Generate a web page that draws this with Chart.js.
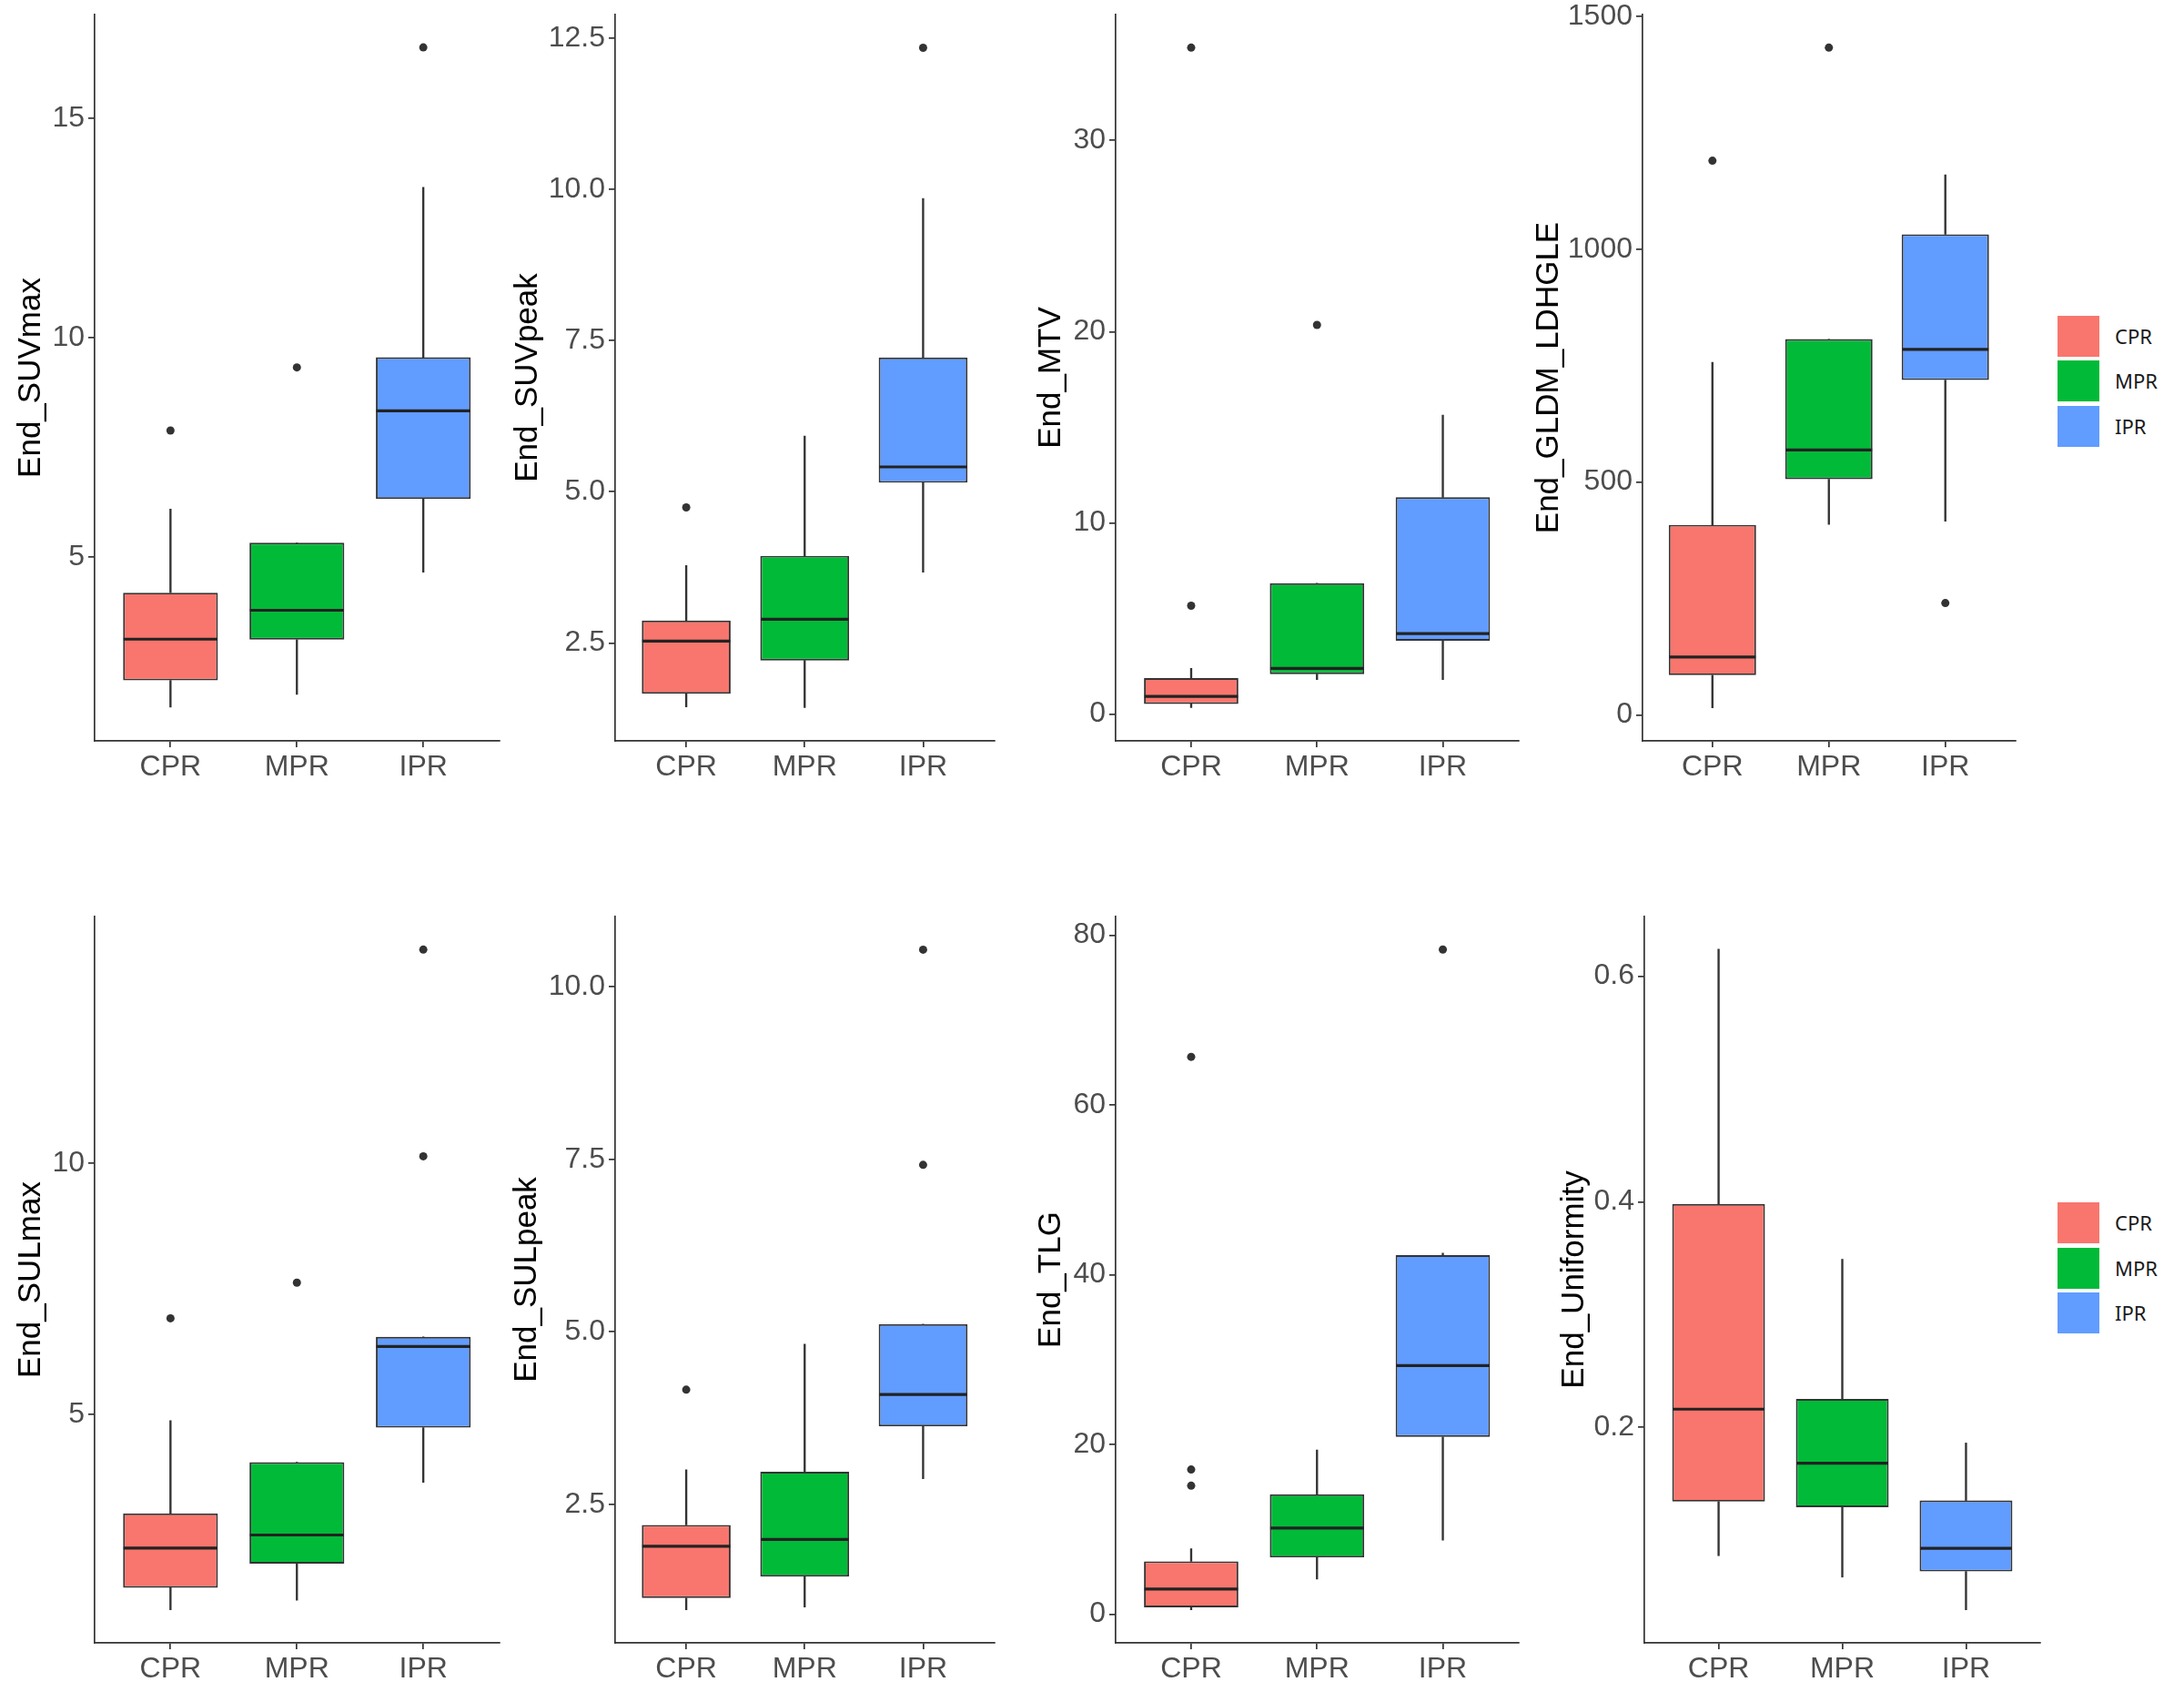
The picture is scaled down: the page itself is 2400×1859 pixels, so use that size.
<!DOCTYPE html>
<html>
<head>
<meta charset="utf-8">
<script src="https://cdn.jsdelivr.net/npm/chart.js@4.4.1/dist/chart.umd.min.js"></script>
<style>
html,body{margin:0;padding:0;background:#fff;}
body{width:2400px;height:1859px;position:relative;overflow:hidden;font-family:'Liberation Sans',Arial,sans-serif;}
canvas{position:absolute;}
.sw{position:absolute;left:2261px;width:46px;height:45px;}
.lt{position:absolute;left:2324px;height:45px;line-height:45px;font-size:22px;color:#1a1a1a;font-family:'Noto Sans','Liberation Sans',sans-serif;}
</style>
</head>
<body>
<script>
// ---------- data ----------
const groups = ['CPR', 'MPR', 'IPR'];
const groupColors = ['#F8766D', '#00BA38', '#619CFF'];
const panelTitles = ['End_SUVmax', 'End_SUVpeak', 'End_MTV', 'End_GLDM_LDHGLE',
                     'End_SULmax', 'End_SULpeak', 'End_TLG', 'End_Uniformity'];

// per panel: values for CPR, MPR, IPR
const whiskerLow = [
  [1.57, 1.86, 4.65], [1.44, 1.43, 3.67], [0.34, 1.80, 1.80], [15, 409, 416],
  [1.10, 1.29, 3.64], [0.97, 1.01, 2.87], [0.53, 4.16, 8.73], [0.086, 0.067, 0.038]
];
const boxQ1 = [
  [2.18, 3.11, 6.32], [1.66, 2.21, 5.15], [0.53, 2.09, 3.84], [85, 506, 719],
  [1.54, 2.02, 4.73], [1.14, 1.45, 3.63], [0.83, 6.71, 20.9], [0.134, 0.129, 0.072]
];
const boxMedian = [
  [3.12, 3.78, 8.33], [2.53, 2.89, 5.41], [0.93, 2.39, 4.21], [124, 569, 785],
  [2.33, 2.59, 6.35], [1.89, 1.99, 4.09], [2.97, 10.16, 29.29], [0.216, 0.168, 0.0925]
];
const boxQ3 = [
  [4.18, 5.32, 9.55], [2.87, 3.94, 7.22], [1.88, 6.84, 11.34], [408, 807, 1032],
  [3.02, 4.04, 6.54], [2.20, 2.97, 5.11], [6.24, 14.14, 42.3], [0.398, 0.225, 0.135]
];
const whiskerHigh = [
  [6.09, 5.32, 13.43], [3.78, 5.92, 9.85], [2.39, 6.84, 15.64], [757, 807, 1160],
  [4.87, 4.04, 6.54], [3.00, 4.82, 5.11], [7.72, 19.37, 42.54], [0.624, 0.349, 0.186]
];
// outliers: group index and value
const outlierGroup = [
  [0, 1, 2], [0, 2], [0, 0, 1], [0, 1, 2],
  [0, 1, 2, 2], [0, 2, 2], [0, 0, 0, 2], []
];
const outlierValue = [
  [7.88, 9.32, 16.62], [4.74, 12.34], [5.67, 34.85, 20.35], [1190, 1433, 240],
  [6.91, 7.62, 10.14, 14.26], [4.16, 7.42, 10.54], [15.15, 17.05, 65.66, 78.3], []
];
// y axis ranges and ticks
const yMin = [0.8, 0.88, -1.4, -56, 0.44, 0.49, -3.36, 0.0087];
const yMax = [17.37, 12.89, 36.58, 1504, 14.92, 11.02, 82.19, 0.653];
const yTickValues = [
  [5, 10, 15], [2.5, 5, 7.5, 10, 12.5], [0, 10, 20, 30], [0, 500, 1000, 1500],
  [5, 10], [2.5, 5, 7.5, 10], [0, 20, 40, 60, 80], [0.2, 0.4, 0.6]
];
const yTickLabels = [
  ['5', '10', '15'], ['2.5', '5.0', '7.5', '10.0', '12.5'], ['0', '10', '20', '30'],
  ['0', '500', '1000', '1500'], ['5', '10'], ['2.5', '5.0', '7.5', '10.0'],
  ['0', '20', '40', '60', '80'], ['0.2', '0.4', '0.6']
];
const groupPositions = [1, 2, 3];

// ---------- layout (pixels) ----------
const rowTop = [16, 1007];
const rowBottom = [814, 1805];
const panelRow = [0, 0, 0, 0, 1, 1, 1, 1];
const panelCanvasLeft = [13, 559, 1134, 1681, 13, 558, 1134, 1709];
const panelAreaLeft = [104, 676, 1226, 1805, 104, 676, 1226, 1807];
const panelAreaRight = [549, 1093, 1669, 2215, 549, 1093, 1669, 2242];
const legendTops = [[347, 396, 446], [1321, 1371, 1420]];
const X_AXIS_H = 60, TOP_PAD = 16, RIGHT_PAD = 4;
const FONT = "'Liberation Sans', Arial, sans-serif";
const INK = '#333333';

for (let p = 0; p < 8; p++) {
  const row = panelRow[p];
  const cLeft = panelCanvasLeft[p];
  const cTop = rowTop[row] - TOP_PAD;
  const w = panelAreaRight[p] - cLeft + RIGHT_PAD;
  const h = TOP_PAD + (rowBottom[row] - rowTop[row]) + X_AXIS_H;
  const yAxisW = panelAreaLeft[p] - cLeft;
  const cv = document.createElement('canvas');
  cv.width = w; cv.height = h;
  cv.style.left = cLeft + 'px'; cv.style.top = cTop + 'px';
  cv.style.width = w + 'px'; cv.style.height = h + 'px';
  document.body.appendChild(cv);

  const halfBox = (chart) => {
    const s = chart.scales.x;
    return Math.abs(s.getPixelForValue(1.375) - s.getPixelForValue(1)) - 0.5;
  };

  new Chart(cv, {
    type: 'bar',
    data: {
      datasets: [
        { type: 'bar', order: 4, grouped: false, barThickness: 1.7, borderWidth: 0,
          backgroundColor: INK,
          data: groupPositions.map((x, i) => ({ x, y: [whiskerLow[p][i], boxQ1[p][i]] })) },
        { type: 'bar', order: 4, grouped: false, barThickness: 1.7, borderWidth: 0,
          backgroundColor: INK,
          data: groupPositions.map((x, i) => ({ x, y: [boxQ3[p][i], whiskerHigh[p][i]] })) },
        { type: 'bar', order: 3, grouped: false, barPercentage: 0.75, categoryPercentage: 1,
          backgroundColor: groupColors, borderColor: INK, borderWidth: 1.9, borderSkipped: false,
          data: groupPositions.map((x, i) => ({ x, y: [boxQ1[p][i], boxQ3[p][i]] })) },
        { type: 'scatter', order: 2, pointStyle: 'line',
          pointRadius: (ctx) => halfBox(ctx.chart),
          pointBorderWidth: 3.2, pointBorderColor: '#222222',
          data: groupPositions.map((x, i) => ({ x, y: boxMedian[p][i] })) },
        { type: 'scatter', order: 1, pointRadius: 4.5, pointBorderWidth: 0,
          pointBackgroundColor: INK,
          data: outlierGroup[p].map((g, k) => ({ x: groupPositions[g], y: outlierValue[p][k] })) }
      ]
    },
    options: {
      responsive: false, animation: false, events: [],
      layout: { padding: { top: TOP_PAD, right: RIGHT_PAD, left: 0, bottom: 0 } },
      plugins: { legend: { display: false }, tooltip: { enabled: false } },
      scales: {
        x: {
          type: 'linear', min: 0.4, max: 3.6, offset: false,
          afterBuildTicks: (s) => { s.ticks = groupPositions.map(v => ({ value: v })); },
          afterFit: (s) => { s.height = X_AXIS_H; s.paddingLeft = 0; s.paddingRight = 0; },
          ticks: { callback: (v, i) => groups[i], color: '#4d4d4d', autoSkip: false,
                   maxRotation: 0, padding: 3, font: { family: FONT, size: 32 } },
          grid: { drawOnChartArea: false, drawTicks: true, tickLength: 7, color: INK,
                  lineWidth: 1.7, offset: false },
          border: { display: true, color: INK, width: 1.7 }
        },
        y: {
          type: 'linear', min: yMin[p], max: yMax[p],
          afterBuildTicks: (s) => { s.ticks = yTickValues[p].map(v => ({ value: v })); },
          afterFit: (s) => { s.width = yAxisW; s.paddingTop = 0; s.paddingBottom = 0; },
          ticks: { callback: (v, i) => yTickLabels[p][i], color: '#4d4d4d', padding: 4,
                   autoSkip: false, font: { family: FONT, size: 32 } },
          grid: { drawOnChartArea: false, drawTicks: true, tickLength: 7, color: INK,
                  lineWidth: 1.7 },
          border: { display: true, color: INK, width: 1.7 },
          title: { display: true, text: panelTitles[p], color: '#000000', padding: 0,
                   font: { family: FONT, size: 35 } }
        }
      }
    }
  });
}

// legends (one beside each row)
for (let r = 0; r < 2; r++) {
  groups.forEach((g, i) => {
    const sw = document.createElement('div');
    sw.className = 'sw';
    sw.style.top = legendTops[r][i] + 'px';
    sw.style.background = groupColors[i];
    document.body.appendChild(sw);
    const t = document.createElement('div');
    t.className = 'lt';
    t.style.top = legendTops[r][i] + 'px';
    t.textContent = g;
    document.body.appendChild(t);
  });
}
</script>
</body>
</html>
